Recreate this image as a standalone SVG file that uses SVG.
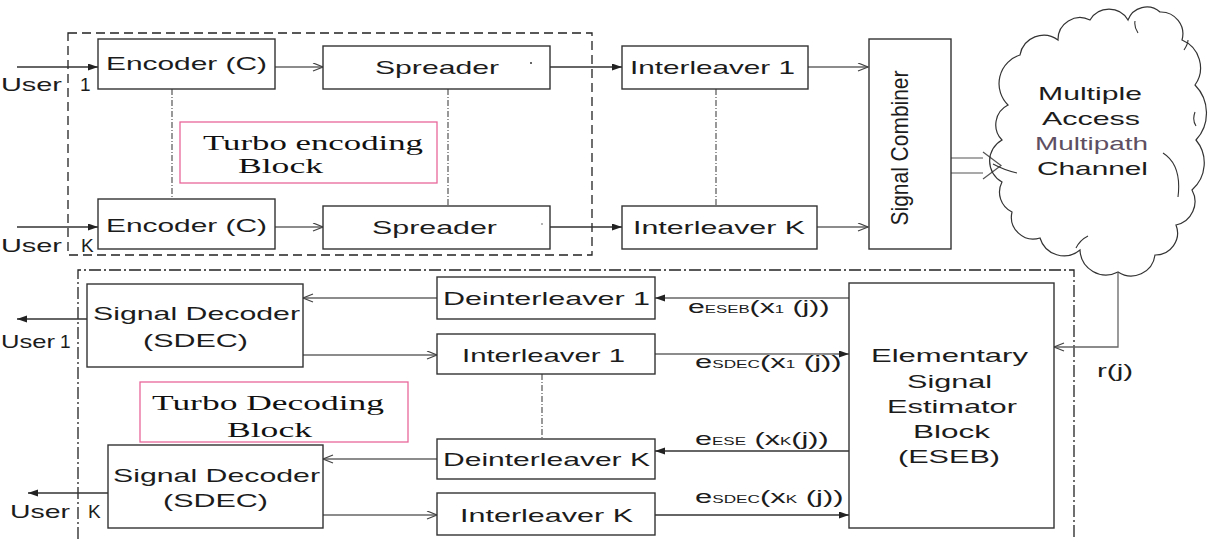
<svg xmlns="http://www.w3.org/2000/svg" width="1208" height="539" viewBox="0 0 1208 539">
<style>
.t{font-family:"Liberation Sans",Arial,sans-serif;font-size:19px;fill:#1c1c1c}
.sr{font-family:"Liberation Serif","Times New Roman",serif;font-size:20px;fill:#111}
.box{fill:#fff;stroke:#333;stroke-width:1.4}
.pink{fill:#fff;stroke:#e8679a;stroke-width:1.3}
.ln{fill:none;stroke:#333;stroke-width:1.3}
.lg{fill:none;stroke:#666;stroke-width:1.3}
.dd{fill:none;stroke:#555;stroke-width:1.2;stroke-dasharray:6 2 1 2}
.sub{font-size:10px}
</style>
<defs>
<marker id="fa" markerUnits="userSpaceOnUse" markerWidth="11" markerHeight="8" refX="10" refY="3.5" orient="auto">
<path d="M0,0 L10,3.5 L0,7 z" fill="#222"/>
</marker>
<marker id="oa" markerUnits="userSpaceOnUse" markerWidth="12" markerHeight="10" refX="11" refY="4.5" orient="auto">
<path d="M1,0.5 L11,4.5 L1,8.5" fill="none" stroke="#444" stroke-width="1.3"/>
</marker>
</defs>

<!-- frames -->
<rect x="68" y="33" width="524" height="222" fill="none" stroke="#222" stroke-width="1.3" stroke-dasharray="9 5"/>
<path d="M78,539 V270 H1074 V539" fill="none" stroke="#222" stroke-width="1.3" stroke-dasharray="12 3 2 3"/>

<g id="connectors">
<line class="ln" x1="17" y1="67" x2="98" y2="67" marker-end="url(#fa)"/>
<line class="ln" x1="17" y1="227" x2="98" y2="227" marker-end="url(#fa)"/>
<line class="lg" x1="275" y1="67" x2="323" y2="67" marker-end="url(#oa)"/>
<line class="lg" x1="275" y1="227" x2="323" y2="227" marker-end="url(#oa)"/>
<line class="ln" x1="550" y1="67" x2="622" y2="67" marker-end="url(#fa)"/>
<line class="ln" x1="550" y1="227" x2="622" y2="227" marker-end="url(#fa)"/>
<line class="lg" x1="808" y1="67" x2="868" y2="67" marker-end="url(#oa)"/>
<line class="lg" x1="817" y1="227" x2="868" y2="227" marker-end="url(#oa)"/>
<path d="M951,158 H983 M983,152 L1001,165.5 L983,179 M951,173 H983" fill="none" stroke="#555" stroke-width="1.2"/>
<line class="dd" x1="172" y1="89" x2="172" y2="199"/>
<line class="dd" x1="448" y1="89" x2="448" y2="206"/>
<line class="dd" x1="716" y1="89" x2="716" y2="206"/>
<line class="dd" x1="542" y1="374" x2="542" y2="439"/>
<line class="ln" x1="87" y1="319" x2="17" y2="319" marker-end="url(#fa)"/>
<line class="ln" x1="108" y1="493" x2="28" y2="493" marker-end="url(#fa)"/>
<line class="lg" x1="437" y1="298" x2="303" y2="298" marker-end="url(#oa)"/>
<line class="lg" x1="303" y1="355" x2="437" y2="355" marker-end="url(#oa)"/>
<line class="lg" x1="437" y1="459" x2="323" y2="459" marker-end="url(#oa)"/>
<line class="lg" x1="323" y1="515" x2="437" y2="515" marker-end="url(#oa)"/>
<line class="lg" x1="849" y1="298" x2="655" y2="298" marker-end="url(#fa)"/>
<line class="lg" x1="655" y1="354" x2="849" y2="354" marker-end="url(#fa)"/>
<line class="ln" x1="849" y1="451" x2="655" y2="451" marker-end="url(#fa)"/>
<line class="ln" x1="655" y1="515" x2="849" y2="515" marker-end="url(#fa)"/>
<path class="lg" d="M1118,273 V347 H1054" marker-end="url(#oa)"/>
</g>

<!-- user labels -->
<text class="t"><tspan x="1" y="91" textLength="61" lengthAdjust="spacingAndGlyphs">User</tspan><tspan x="80" y="91">1</tspan></text>
<text class="t"><tspan x="1" y="252" textLength="61" lengthAdjust="spacingAndGlyphs">User</tspan><tspan x="81" y="252">K</tspan></text>
<text class="t"><tspan x="1" y="348" textLength="54" lengthAdjust="spacingAndGlyphs">User</tspan><tspan x="60" y="348">1</tspan></text>
<text class="t"><tspan x="10" y="518" textLength="60" lengthAdjust="spacingAndGlyphs">User</tspan><tspan x="88" y="518">K</tspan></text>

<g id="enc1"><rect class="box" x="98" y="39" width="177" height="50"/><text class="t" x="106" y="70" textLength="161" lengthAdjust="spacingAndGlyphs">Encoder (C)</text></g>
<g id="encK"><rect class="box" x="98" y="199" width="177" height="50"/><text class="t" x="106" y="232" textLength="161" lengthAdjust="spacingAndGlyphs">Encoder (C)</text></g>
<g id="spr1"><rect class="box" x="323" y="46" width="227" height="43"/><text class="t" x="375" y="74" textLength="124" lengthAdjust="spacingAndGlyphs">Spreader</text><circle cx="531" cy="63" r="1" fill="#333"/></g>
<g id="sprK"><rect class="box" x="323" y="206" width="227" height="43"/><text class="t" x="372" y="234" textLength="125" lengthAdjust="spacingAndGlyphs">Spreader</text><circle cx="542" cy="224" r="0.8" fill="#555"/></g>
<g id="int1"><rect class="box" x="622" y="46" width="186" height="43"/><text class="t" x="630" y="74" textLength="165" lengthAdjust="spacingAndGlyphs">Interleaver 1</text></g>
<g id="intK"><rect class="box" x="622" y="206" width="195" height="43"/><text class="t" x="633" y="234" textLength="172" lengthAdjust="spacingAndGlyphs">Interleaver K</text></g>
<g id="tenc"><rect class="pink" x="180" y="122" width="257" height="61"/><text class="sr" x="203" y="150" textLength="220" lengthAdjust="spacingAndGlyphs">Turbo encoding</text><text class="sr" x="238" y="173" textLength="85" lengthAdjust="spacingAndGlyphs">Block</text></g>
<g id="comb"><rect class="box" x="869" y="39" width="82" height="210"/><text class="t" transform="translate(908,148) rotate(-90)" x="0" y="0" text-anchor="middle" style="font-size:24px" textLength="155" lengthAdjust="spacingAndGlyphs">Signal Combiner</text></g>

<g id="cloud">
<path d="M1008,105 A30,30 0 0 1 1020,55 A24,24 0 0 1 1058,40 A22,22 0 0 1 1090,20 A22,22 0 0 1 1128,20 A20,20 0 0 1 1160,12 A22,22 0 0 1 1182,40 A30,30 0 0 1 1195,85 A40,40 0 0 1 1196,140 A36,36 0 0 1 1192,190 A24,24 0 0 1 1176,225 A22,22 0 0 1 1155,255 A24,24 0 0 1 1118,272 A26,26 0 0 1 1080,250 A25,25 0 0 1 1040,238 A22,22 0 0 1 1012,212 A22,22 0 0 1 1002,182 A24,24 0 0 1 1002,140 A22,22 0 0 1 1008,105 Z" fill="none" stroke="#333" stroke-width="1.2"/>
<path d="M993,164 Q1004,170 1017,173 M1163,153 Q1182,165 1178,197 M1138,33 Q1134,27 1135,21 M1184,50 Q1188,44 1188,40 M1195,112 Q1192,120 1196,126 M1076,248 Q1080,240 1088,236" fill="none" stroke="#333" stroke-width="1.1"/>
<text class="t" x="1038" y="100" textLength="104" lengthAdjust="spacingAndGlyphs">Multiple</text>
<text class="t" x="1042" y="125" textLength="98" lengthAdjust="spacingAndGlyphs">Access</text>
<text class="t" x="1035" y="150" textLength="113" lengthAdjust="spacingAndGlyphs" style="fill:#5e4f62;font-size:18px">Multipath</text>
<text class="t" x="1037" y="175" textLength="111" lengthAdjust="spacingAndGlyphs">Channel</text>
</g>

<g id="sdec1"><rect class="box" x="87" y="284" width="216" height="83"/><text class="t" x="93" y="320" textLength="207" lengthAdjust="spacingAndGlyphs">Signal Decoder</text><text class="t" x="143" y="347" textLength="105" lengthAdjust="spacingAndGlyphs">(SDEC)</text></g>
<g id="sdecK"><rect class="box" x="108" y="445" width="215" height="83"/><text class="t" x="113" y="482" textLength="207" lengthAdjust="spacingAndGlyphs">Signal Decoder</text><text class="t" x="163" y="507" textLength="105" lengthAdjust="spacingAndGlyphs">(SDEC)</text></g>
<g id="tdec"><rect class="pink" x="140" y="382" width="268" height="60"/><text class="sr" x="152" y="410" textLength="232" lengthAdjust="spacingAndGlyphs">Turbo Decoding</text><text class="sr" x="227" y="437" textLength="85" lengthAdjust="spacingAndGlyphs">Block</text></g>
<g id="deint1"><rect class="box" x="437" y="277" width="218" height="42"/><text class="t" x="443" y="305" textLength="207" lengthAdjust="spacingAndGlyphs">Deinterleaver 1</text></g>
<g id="int1b"><rect class="box" x="437" y="334" width="218" height="40"/><text class="t" x="462" y="362" textLength="163" lengthAdjust="spacingAndGlyphs">Interleaver 1</text></g>
<g id="deintK"><rect class="box" x="437" y="439" width="218" height="40"/><text class="t" x="443" y="466" textLength="207" lengthAdjust="spacingAndGlyphs">Deinterleaver K</text></g>
<g id="intKb"><rect class="box" x="437" y="493" width="218" height="42"/><text class="t" x="460" y="522" textLength="173" lengthAdjust="spacingAndGlyphs">Interleaver K</text></g>
<g id="eseb"><rect class="box" x="849" y="283" width="205" height="245"/>
<text class="t" x="871" y="362" textLength="157" lengthAdjust="spacingAndGlyphs">Elementary</text>
<text class="t" x="907" y="388" textLength="85" lengthAdjust="spacingAndGlyphs">Signal</text>
<text class="t" x="887" y="413" textLength="130" lengthAdjust="spacingAndGlyphs">Estimator</text>
<text class="t" x="913" y="438" textLength="77" lengthAdjust="spacingAndGlyphs">Block</text>
<text class="t" x="898" y="463" textLength="102" lengthAdjust="spacingAndGlyphs">(ESEB)</text>
</g>

<g id="labels">
<text class="t" x="1097" y="377" textLength="36" lengthAdjust="spacingAndGlyphs">r(j)</text>
<g transform="translate(688,313) scale(1.68,1)"><text class="t" x="0" y="0" style="font-size:18px">e<tspan class="sub">ESEB</tspan>(x<tspan class="sub">1</tspan> (j))</text></g>
<g transform="translate(695,368) scale(1.72,1)"><text class="t" x="0" y="0" style="font-size:18px">e<tspan class="sub">SDEC</tspan>(x<tspan class="sub">1</tspan> (j))</text></g>
<g transform="translate(695,445) scale(1.7,1)"><text class="t" x="0" y="0" style="font-size:18px">e<tspan class="sub">ESE</tspan> (x<tspan class="sub">K</tspan>(j))</text></g>
<g transform="translate(695,503) scale(1.72,1)"><text class="t" x="0" y="0" style="font-size:18px">e<tspan class="sub">SDEC</tspan>(x<tspan class="sub">K</tspan> (j))</text></g>
</g>
</svg>
